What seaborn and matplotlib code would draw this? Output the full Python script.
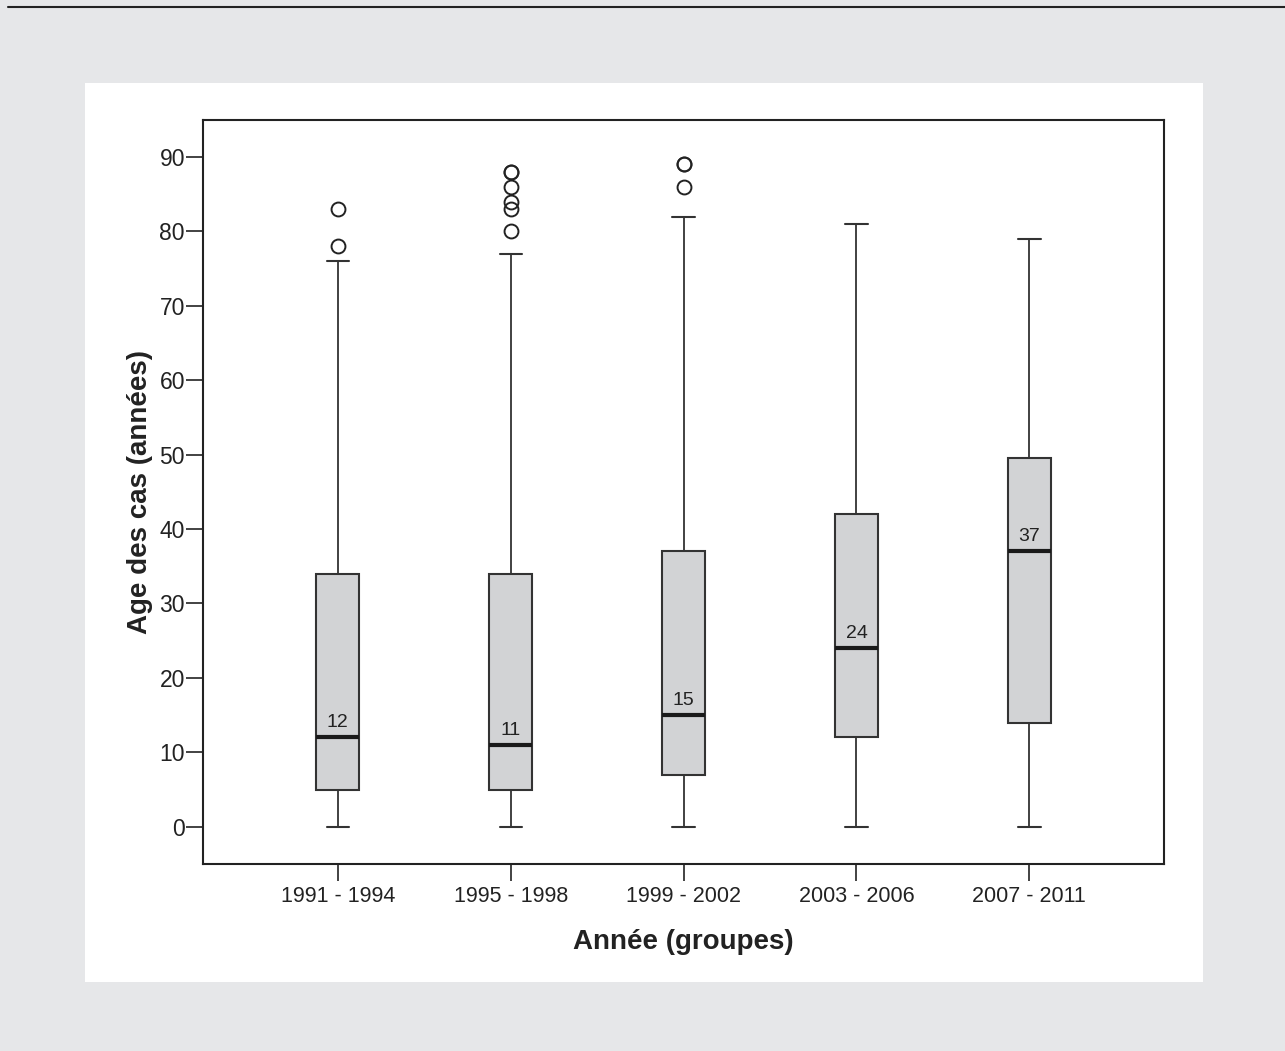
import matplotlib.pyplot as plt
import matplotlib.patches as mpatches
import seaborn as sns

groups = ["1991 - 1994", "1995 - 1998", "1999 - 2002", "2003 - 2006", "2007 - 2011"]
whislo = [0, 0, 0, 0, 0]
q1 = [5, 5, 7, 12, 14]
med = [12, 11, 15, 24, 37]
q3 = [34, 34, 37, 42, 49.5]
whishi = [76, 77, 82, 81, 79]
fliers = [[78, 83], [80, 83, 84, 86, 88, 88], [86, 89, 89], [], []]

sns.set_style("white")
plt.rcParams["font.family"] = ["Liberation Sans", "DejaVu Sans"]

fig = plt.figure(figsize=(12.85, 10.51), dpi=100)
fig.patch.set_facecolor("#e6e7e9")

# white panel and top rule
fig.add_artist(mpatches.Rectangle((0.066, 0.0657), 0.87, 0.855, transform=fig.transFigure,
                                  facecolor="white", edgecolor="none", zorder=-10))
fig.add_artist(plt.Line2D([0.006, 1.0], [0.9933, 0.9933], transform=fig.transFigure,
                          color="#222222", lw=1.5, zorder=-5))

ax = fig.add_axes([0.158, 0.178, 0.748, 0.708])
ax.set_facecolor("white")

stats = []
for i in range(len(groups)):
    stats.append(dict(whislo=whislo[i], q1=q1[i], med=med[i], q3=q3[i],
                      whishi=whishi[i], fliers=fliers[i], label=groups[i]))

ax.bxp(stats, positions=range(len(groups)), widths=0.25, patch_artist=True,
       boxprops=dict(facecolor="#d2d3d5", edgecolor="#333333", lw=1.5),
       medianprops=dict(color="#1a1a1a", lw=3),
       whiskerprops=dict(color="#333333", lw=1.3),
       capprops=dict(color="#333333", lw=1.5),
       capwidths=0.13,
       flierprops=dict(marker="o", markersize=10, markerfacecolor="none",
                       markeredgecolor="#222222", markeredgewidth=1.4))

for i, m in enumerate(med):
    ax.text(i, m + 0.8, f"{m}", ha="center", va="bottom", fontsize=14, color="#222222")

ax.set_xlim(-0.78, 4.78)
ax.set_ylim(-5, 95)
ax.set_yticks(range(0, 100, 10))
ax.set_xticks(range(len(groups)))
ax.set_xticklabels(groups)
ax.tick_params(axis="both", direction="out", length=12, width=1.2, color="#222222",
               labelcolor="#222222", bottom=True, left=True)
ax.tick_params(axis="x", labelsize=15.5, pad=4)
ax.tick_params(axis="y", labelsize=16.5, pad=1)
for s in ax.spines.values():
    s.set_color("#222222")
    s.set_linewidth(1.5)

ax.set_xlabel("Année (groupes)", fontsize=20, fontweight="bold", color="#222222", labelpad=16)
ax.set_ylabel("Age des cas (années)", fontsize=20, fontweight="bold", color="#222222", labelpad=5)

fig.savefig("out.png", dpi=100, facecolor=fig.get_facecolor())
